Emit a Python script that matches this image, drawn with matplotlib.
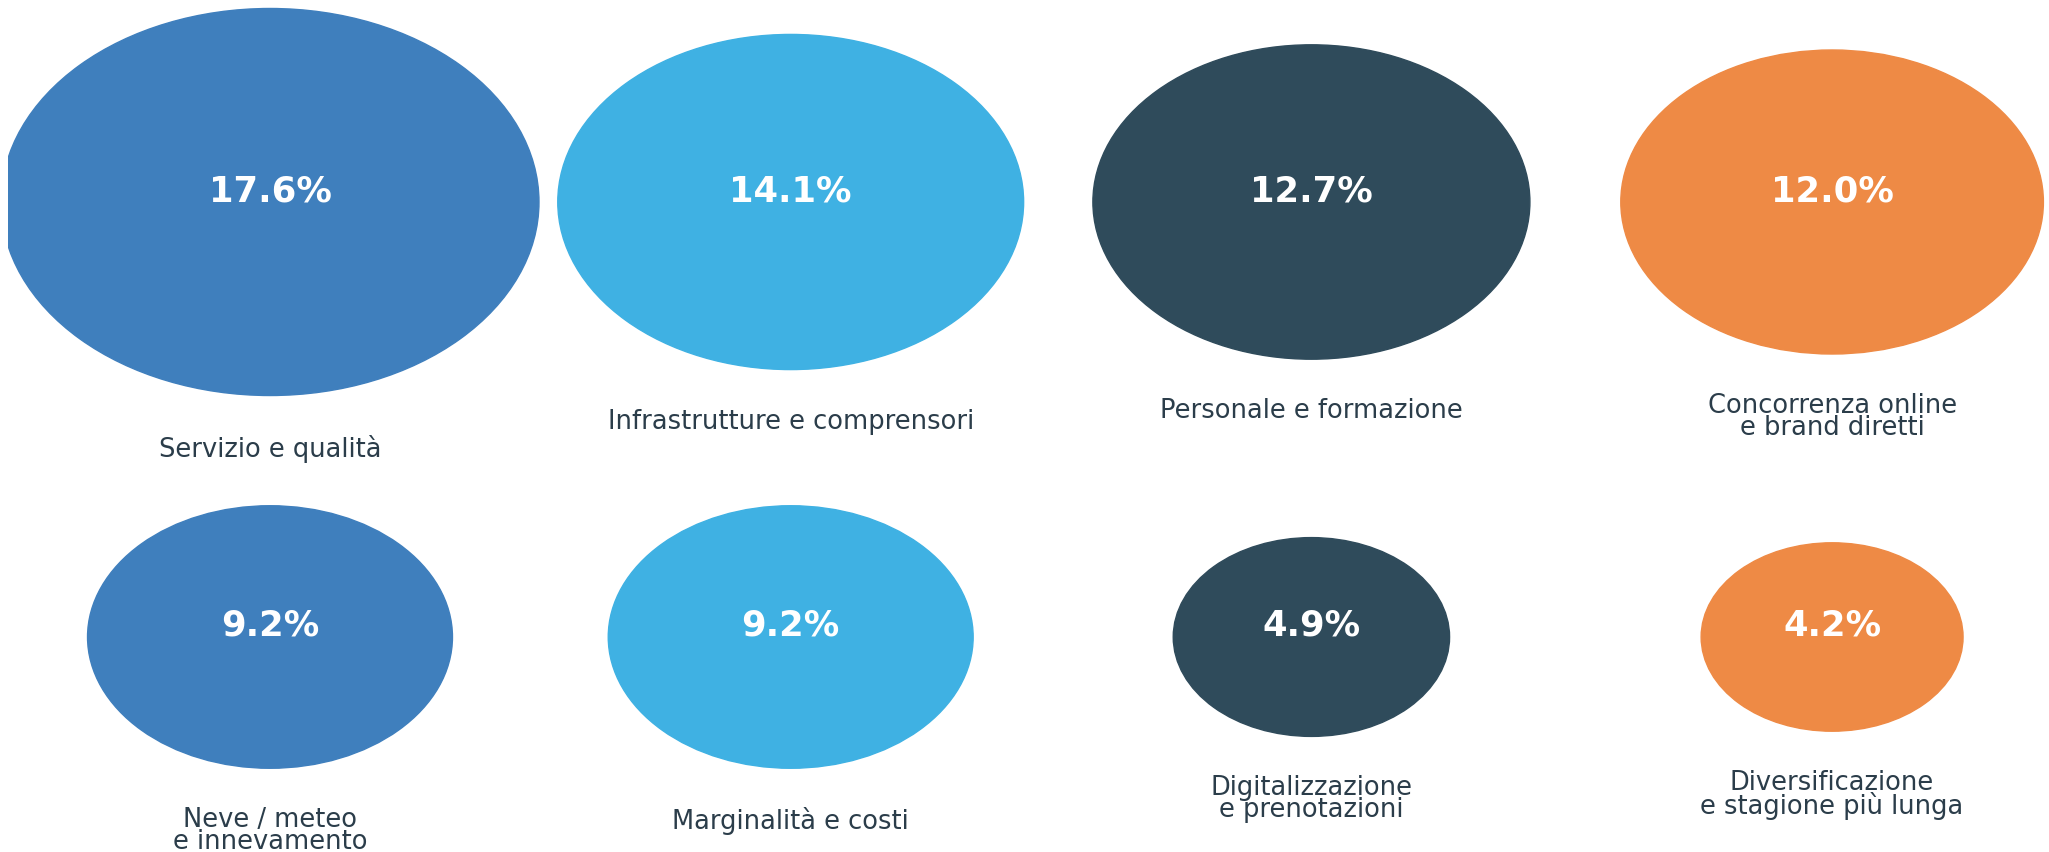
"""Bubble grid: share of mentions by topic (ski / mountain tourism survey)"""

import matplotlib
matplotlib.use('Agg')
import matplotlib.pyplot as plt
from matplotlib.patches import Ellipse

categories = ['Servizio e qualità', 'Infrastrutture e comprensori',
              'Personale e formazione', 'Concorrenza online\ne brand diretti',
              'Neve / meteo\ne innevamento', 'Marginalità e costi',
              'Digitalizzazione\ne prenotazioni',
              'Diversificazione\ne stagione più lunga']
shares = [17.6, 14.1, 12.7, 12.0, 9.2, 9.2, 4.9, 4.2]
colors = ['#3f7fbd', '#3fb1e3', '#2f4b5b', '#ee8a45',
          '#3f7fbd', '#3fb1e3', '#2f4b5b', '#ee8a45']

ncols = 4
col_px = 520.7      # distance between column centres in pixels
row_px = 435.0      # distance between row centres in pixels
# bubble radius grows linearly with the share (pixels)
r0_px, r1_px = 87.7, 10.3
squash = 1.39       # horizontal / vertical radius

fig = plt.figure(figsize=(20.49, 8.53), dpi=100)
left = 8 / 2049
ax = fig.add_axes([left, 0, 1 - left, 1])
ax.set_xlim(-262 / col_px, (2041 - 262) / col_px)
ax.set_ylim((853 - 203) / row_px, -203 / row_px)
ax.axis('off')

for i, (cat, val, col) in enumerate(zip(categories, shares, colors)):
    x = i % ncols
    y = i // ncols
    r = r0_px + r1_px * val
    w = 2 * r / col_px
    h = 2 * r / squash / row_px
    ax.add_patch(Ellipse((x, y), w, h, facecolor=col, edgecolor=col,
                         linewidth=1))
    ax.text(x, y - 12 / row_px, f"{val:.1f}%", ha='center', va='center',
            color='white', fontsize=25.5, fontweight='bold')
    ax.text(x, y + h / 2 + 38 / row_px, cat, ha='center', va='top',
            color='#2b3d4a', fontsize=18.5, linespacing=0.8)

fig.savefig('out.png', dpi=100, facecolor='white')
